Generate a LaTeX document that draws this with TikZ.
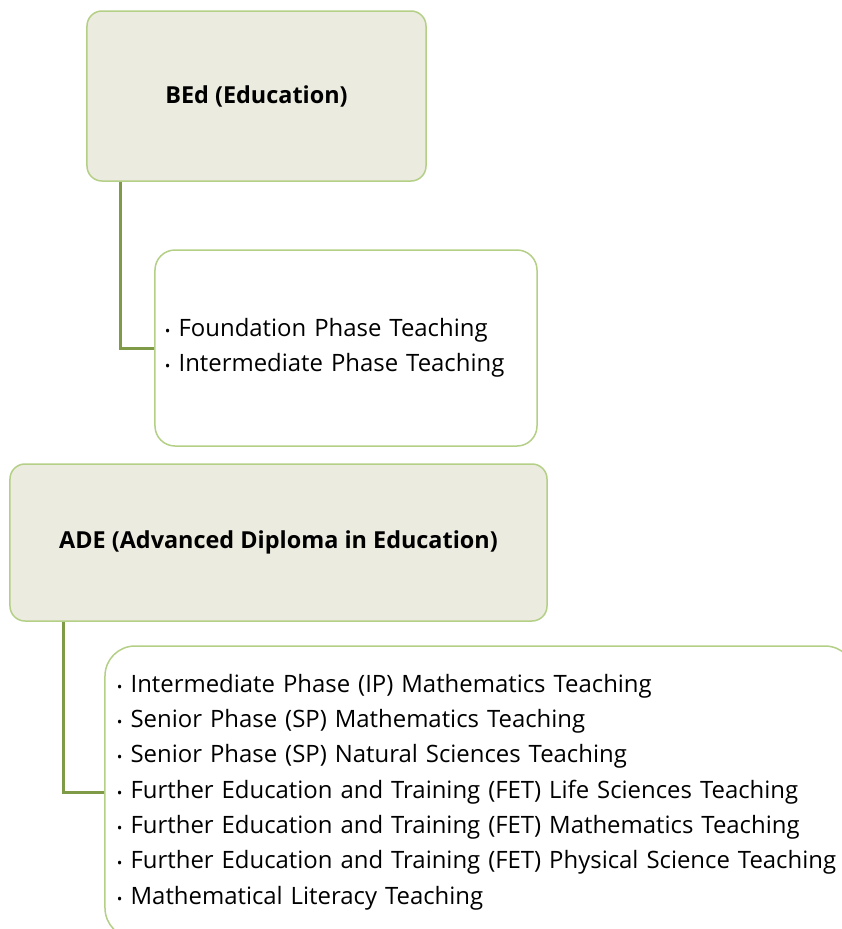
\documentclass[tikz,border=0pt]{standalone}
\usepackage{fontspec}
\setmainfont{Open Sans}
\usetikzlibrary{calc}
\definecolor{boxfill}{HTML}{ECEBE0}
\definecolor{boxline}{HTML}{B4CF86}
\definecolor{linkline}{HTML}{7F9B48}
\newcommand{\itm}{{\fontsize{15}{15}\selectfont\textbullet}\hspace{8bp}}
\begin{document}
\begin{tikzpicture}[
              x=1bp, y=-1bp,
              head/.style={draw=boxline,line width=1.5bp,fill=boxfill,rounded corners=15bp,
                           inner sep=0pt,font=\fontsize{23.5}{26}\selectfont\bfseries},
              items/.style={draw=boxline,line width=1.5bp,fill=white,rounded corners=20bp,
                            align=left,inner ysep=0pt,font=\fontsize{24}{35.4}\selectfont},
              link/.style={draw=linkline,line width=3bp}
            ]
            \useasboundingbox (0,0) rectangle (842,929);
            \clip (0,0) rectangle (842,929);

            % Box: BEd
            \node[head,minimum width=339bp,minimum height=170bp] (bed) at (256.5,96) {BEd (Education)};
            \node[items,text width=362bp,inner xsep=10bp,minimum height=196bp] (bedlist) at (346,348)
              {\itm Foundation Phase Teaching\\
               \itm Intermediate Phase Teaching};

            % Box: ADE
            \node[head,minimum width=537bp,minimum height=157bp] (ade) at (278.5,542.5) {ADE (Advanced Diploma in Education)};
            \node[items,rounded corners=30bp,text width=726bp,inner xsep=12bp,minimum height=292bp] (adelist) at (480,792)
              {\itm Intermediate Phase (IP) Mathematics Teaching\\
               \itm Senior Phase (SP) Mathematics Teaching\\
               \itm Senior Phase (SP) Natural Sciences Teaching\\
               \itm Further Education and Training (FET) Life Sciences Teaching\\
               \itm Further Education and Training (FET) Mathematics Teaching\\
               \itm Further Education and Training (FET) Physical Science Teaching\\
               \itm Mathematical Literacy Teaching};

            % Links
            \draw[link] ($(bed.south west)!0.1!(bed.south east)$) |- (bedlist.west);
            \draw[link] ($(ade.south west)!0.1!(ade.south east)$) |- (adelist.west);

            \end{tikzpicture}
\end{document}
